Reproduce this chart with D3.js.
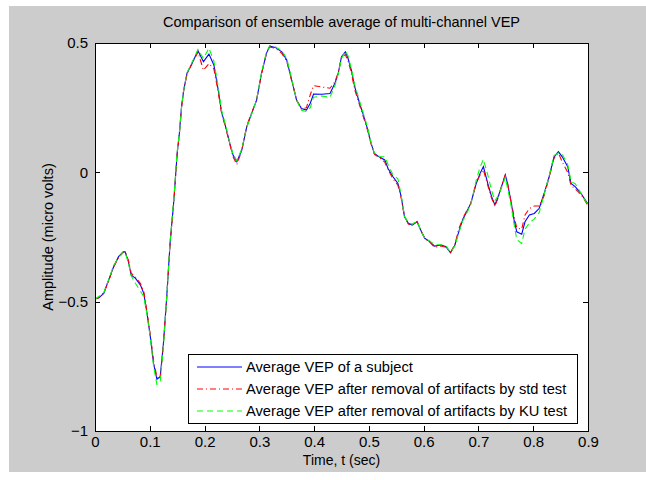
<!DOCTYPE html>
<meta charset="utf-8">
<style>
body { margin: 0; background: #fff; }
svg text { font-family: "Liberation Sans", Arial, sans-serif; fill: #000; }
</style>
<body>
<script src="https://d3js.org/d3.v7.min.js"></script>
<script>
var width = 646
var height = 480

// time (sec) and the three averaged VEP curves (micro volts)
var time = [0.000, 0.007, 0.016, 0.025, 0.034, 0.043, 0.051, 0.055, 0.061, 0.066,
    0.074, 0.083, 0.089, 0.095, 0.101, 0.107, 0.113, 0.119, 0.125, 0.131,
    0.137, 0.144, 0.150, 0.154, 0.158, 0.162, 0.168, 0.177, 0.188, 0.198,
    0.208, 0.217, 0.225, 0.231, 0.240, 0.246, 0.252, 0.259, 0.268, 0.277,
    0.286, 0.295, 0.304, 0.313, 0.319, 0.329, 0.341, 0.350, 0.356, 0.362,
    0.368, 0.377, 0.386, 0.393, 0.399, 0.414, 0.429, 0.438, 0.444, 0.450,
    0.457, 0.462, 0.468, 0.474, 0.483, 0.489, 0.498, 0.504, 0.510, 0.520,
    0.529, 0.535, 0.544, 0.553, 0.559, 0.565, 0.572, 0.579, 0.588, 0.596,
    0.602, 0.611, 0.620, 0.632, 0.641, 0.649, 0.657, 0.664, 0.672, 0.677,
    0.686, 0.696, 0.703, 0.709, 0.717, 0.724, 0.730, 0.736, 0.744, 0.749,
    0.753, 0.759, 0.765, 0.770, 0.779, 0.785, 0.793, 0.802, 0.811, 0.820,
    0.829, 0.838, 0.846, 0.853, 0.863, 0.869, 0.877, 0.887, 0.899]

var vepSubject = [-0.490, -0.485, -0.468, -0.416, -0.365, -0.326, -0.308, -0.307, -0.345, -0.397,
    -0.410, -0.436, -0.468, -0.545, -0.635, -0.740, -0.800, -0.790, -0.660, -0.480,
    -0.275, -0.107, 0.073, 0.150, 0.254, 0.318, 0.383, 0.421, 0.470, 0.428,
    0.457, 0.415, 0.318, 0.234, 0.164, 0.112, 0.067, 0.041, 0.086, 0.176,
    0.228, 0.279, 0.383, 0.460, 0.488, 0.483, 0.466, 0.434, 0.383, 0.331,
    0.279, 0.247, 0.241, 0.267, 0.303, 0.302, 0.305, 0.344, 0.383, 0.447,
    0.466, 0.440, 0.395, 0.331, 0.267, 0.228, 0.164, 0.112, 0.073, 0.058,
    0.048, 0.015, -0.017, -0.043, -0.094, -0.172, -0.197, -0.204, -0.191, -0.230,
    -0.255, -0.268, -0.285, -0.281, -0.288, -0.311, -0.281, -0.230, -0.178, -0.159,
    -0.120, -0.043, -0.004, 0.022, -0.043, -0.094, -0.126, -0.094, -0.043, -0.010,
    -0.043, -0.107, -0.184, -0.230, -0.239, -0.191, -0.165, -0.159, -0.139, -0.081,
    -0.017, 0.060, 0.080, 0.060, 0.022, -0.043, -0.056, -0.081, -0.120]

var vepStd = [-0.490, -0.485, -0.465, -0.420, -0.365, -0.330, -0.310, -0.305, -0.340, -0.390,
    -0.405, -0.430, -0.460, -0.540, -0.630, -0.730, -0.790, -0.800, -0.660, -0.480,
    -0.280, -0.110, 0.070, 0.150, 0.250, 0.320, 0.380, 0.420, 0.465, 0.395,
    0.420, 0.400, 0.310, 0.230, 0.160, 0.110, 0.060, 0.030, 0.085, 0.180,
    0.230, 0.280, 0.380, 0.460, 0.485, 0.480, 0.460, 0.430, 0.380, 0.330,
    0.280, 0.245, 0.250, 0.300, 0.335, 0.330, 0.325, 0.350, 0.385, 0.445,
    0.455, 0.430, 0.385, 0.320, 0.260, 0.220, 0.160, 0.110, 0.070, 0.055,
    0.040, 0.010, -0.025, -0.050, -0.100, -0.170, -0.200, -0.205, -0.190, -0.230,
    -0.255, -0.270, -0.290, -0.285, -0.290, -0.310, -0.280, -0.220, -0.175, -0.155,
    -0.120, -0.040, -0.010, 0.010, -0.050, -0.100, -0.130, -0.100, -0.040, -0.010,
    -0.040, -0.110, -0.170, -0.215, -0.220, -0.165, -0.140, -0.130, -0.130, -0.090,
    -0.020, 0.055, 0.075, 0.040, 0.000, -0.050, -0.065, -0.085, -0.125]

var vepKu = [-0.490, -0.480, -0.465, -0.415, -0.360, -0.330, -0.310, -0.310, -0.350, -0.400,
    -0.430, -0.460, -0.480, -0.550, -0.640, -0.750, -0.820, -0.810, -0.670, -0.480,
    -0.270, -0.100, 0.080, 0.150, 0.250, 0.320, 0.385, 0.425, 0.475, 0.440,
    0.480, 0.430, 0.330, 0.240, 0.170, 0.115, 0.070, 0.045, 0.090, 0.175,
    0.225, 0.280, 0.385, 0.465, 0.490, 0.485, 0.470, 0.440, 0.390, 0.335,
    0.280, 0.240, 0.235, 0.250, 0.290, 0.295, 0.290, 0.335, 0.380, 0.440,
    0.470, 0.450, 0.400, 0.340, 0.275, 0.235, 0.170, 0.115, 0.075, 0.060,
    0.060, 0.030, -0.010, -0.025, -0.090, -0.170, -0.195, -0.200, -0.190, -0.230,
    -0.255, -0.265, -0.280, -0.280, -0.285, -0.310, -0.285, -0.235, -0.185, -0.165,
    -0.125, -0.030, 0.020, 0.050, -0.010, -0.070, -0.110, -0.090, -0.050, -0.020,
    -0.060, -0.120, -0.200, -0.260, -0.275, -0.220, -0.195, -0.180, -0.155, -0.085,
    -0.015, 0.065, 0.075, 0.070, 0.030, -0.035, -0.045, -0.080, -0.125]

var seriesNames = ['Average VEP of a subject',
    'Average VEP after removal of artifacts by std test',
    'Average VEP after removal of artifacts by KU test']
var seriesColors = ['#0000ff', '#ff0000', '#00ff00']
var seriesDash = [null, '6,3,1,3', '6,4']

var xTicks = [0, 0.1, 0.2, 0.3, 0.4, 0.5, 0.6, 0.7, 0.8, 0.9]
var yTicks = [-1, -0.5, 0, 0.5]

var margin = {left: 95, right: 58, top: 43, bottom: 49}
var plotW = width - margin.left - margin.right
var plotH = height - margin.top - margin.bottom

var svg = d3.select('body').append('svg')
    .attr('width', width)
    .attr('height', height)

// matlab figure background
svg.append('rect')
    .attr('x', 9).attr('y', 6)
    .attr('width', width - 9).attr('height', 466)
    .attr('fill', '#cccccc')

var x = d3.scaleLinear().domain([0, 0.9]).range([0, plotW])
var y = d3.scaleLinear().domain([-1, 0.5]).range([plotH, 0])

var g = svg.append('g')
    .attr('transform', 'translate(' + margin.left + ',' + margin.top + ')')

g.append('rect')
    .attr('width', plotW).attr('height', plotH)
    .attr('fill', '#fff')

var line = d3.line()
    .x(function (d) { return x(d[0]) })
    .y(function (d) { return y(d[1]) })

var series = [vepSubject, vepStd, vepKu]
series.forEach(function (vals, i) {
    g.append('path')
        .datum(time.map(function (t, k) { return [t, vals[k]] }))
        .attr('d', line)
        .attr('fill', 'none')
        .attr('stroke', seriesColors[i])
        .attr('stroke-width', 1.1)
        .attr('stroke-dasharray', seriesDash[i])
})

// axes, ticks pointing inwards on all four sides
var fmt = function (d) { return d3.format('')(d) }
var xAxis = g.append('g')
    .attr('transform', 'translate(0,' + plotH + ')')
    .call(d3.axisBottom(x).tickValues(xTicks).tickSize(-5).tickPadding(5).tickFormat(fmt))
var xTop = g.append('g')
    .call(d3.axisTop(x).tickValues(xTicks).tickSize(-5).tickFormat(''))
var yAxis = g.append('g')
    .call(d3.axisLeft(y).tickValues(yTicks).tickSize(-5).tickPadding(7).tickFormat(fmt))
var yRight = g.append('g')
    .attr('transform', 'translate(' + plotW + ',0)')
    .call(d3.axisRight(y).tickValues(yTicks).tickSize(-5).tickFormat(''))

;[xAxis, xTop, yAxis, yRight].forEach(function (a) {
    a.selectAll('path').attr('stroke', '#000').attr('shape-rendering', 'crispEdges')
    a.selectAll('line').attr('stroke', '#000').attr('shape-rendering', 'crispEdges')
    a.selectAll('text')
        .style('font-family', '"Liberation Sans", Arial, sans-serif')
        .style('font-size', '15px')
        .attr('fill', '#000')
})

// legend
var lg = g.append('g')
    .attr('transform', 'translate(' + (188 - margin.left) + ',' + (354 - margin.top) + ')')
lg.append('rect')
    .attr('x', 0.5).attr('y', 0.5)
    .attr('width', 389).attr('height', 69)
    .attr('fill', '#fff')
    .attr('stroke', '#000')
seriesNames.forEach(function (name, i) {
    var yy = 13 + i * 22
    lg.append('line')
        .attr('x1', 9).attr('x2', 54)
        .attr('y1', yy).attr('y2', yy)
        .attr('stroke', seriesColors[i])
        .attr('stroke-dasharray', seriesDash[i])
    lg.append('text')
        .attr('x', 58).attr('y', yy + 5)
        .style('font-size', '14.7px')
        .text(name)
})

svg.append('text')
    .attr('x', margin.left + plotW / 2).attr('y', 27)
    .attr('text-anchor', 'middle')
    .style('font-size', '14.5px')
    .text('Comparison of ensemble average of multi-channel VEP')

svg.append('text')
    .attr('x', margin.left + plotW / 2).attr('y', 465)
    .attr('text-anchor', 'middle')
    .style('font-size', '14px')
    .text('Time, t (sec)')

svg.append('text')
    .attr('transform', 'translate(53,' + (margin.top + plotH / 2) + ') rotate(-90)')
    .attr('text-anchor', 'middle')
    .style('font-size', '14.5px')
    .text('Amplitude (micro volts)')
</script>
</body>
